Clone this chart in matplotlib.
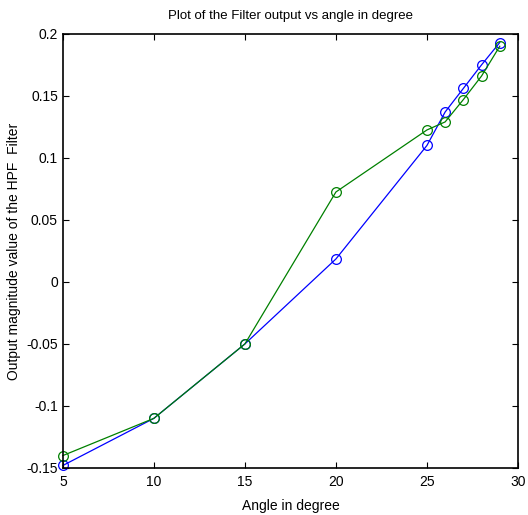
import matplotlib
matplotlib.use("Agg")
import matplotlib.pyplot as plt

# Data
angle = [5, 10, 15, 20, 25, 26, 27, 28, 29]
blue_out = [-0.148, -0.110, -0.050, 0.0185, 0.110, 0.137, 0.156, 0.175, 0.193]
green_out = [-0.140, -0.110, -0.050, 0.0725, 0.1225, 0.129, 0.147, 0.166, 0.190]

x_ticks = [5, 10, 15, 20, 25, 30]
y_ticks = [-0.15, -0.1, -0.05, 0, 0.05, 0.1, 0.15, 0.2]
y_labels = ["-0.15", "-0.1", "-0.05", "0", "0.05", "0.1", "0.15", "0.2"]

plt.rcParams['font.family'] = ['Liberation Sans', 'DejaVu Sans']

fig = plt.figure(figsize=(5.28, 5.15), dpi=100)
ax = fig.add_axes([0.119, 0.0913, 0.862, 0.843])

ax.plot(angle, blue_out, color='#0000ff', lw=0.9, marker='o', ms=7,
        mfc='none', mec='#0000ff', mew=0.9, clip_on=False)
ax.plot(angle, green_out, color='#008000', lw=0.9, marker='o', ms=7,
        mfc='none', mec='#008000', mew=0.9, clip_on=False)

ax.set_xlim(5, 30)
ax.set_ylim(-0.15, 0.2)
ax.set_xticks(x_ticks)
ax.set_yticks(y_ticks)
ax.set_yticklabels(y_labels)
ax.tick_params(direction='in', top=True, right=True, labelsize=10, length=4, width=0.8)
ax.tick_params(axis='x', pad=5)
for s in ax.spines.values():
    s.set_linewidth(1.2)

ax.set_title("Plot of the Filter output vs angle in degree", fontsize=9.5, pad=11)
ax.set_xlabel("Angle in degree", fontsize=10, labelpad=7)
ax.set_ylabel("Output magnitude value of the HPF  Filter", fontsize=10, labelpad=4)

fig.savefig("out.png", dpi=100)
plt.close(fig)
